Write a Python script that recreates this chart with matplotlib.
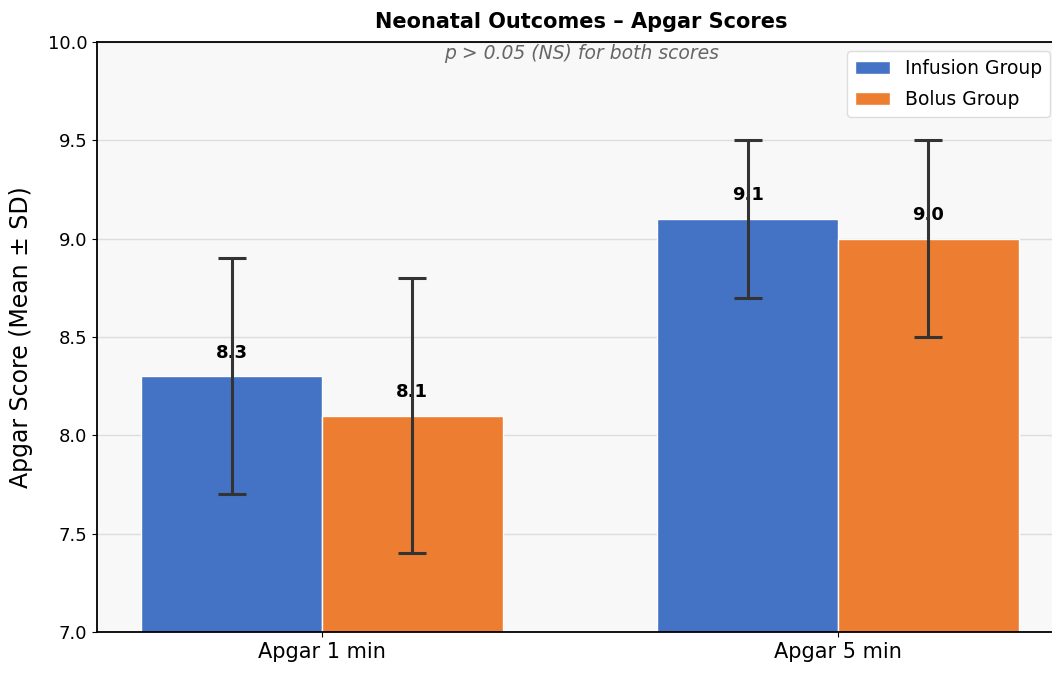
import numpy as np
import matplotlib
matplotlib.use("Agg")
import matplotlib.pyplot as plt

# data
categories = ["Apgar 1 min", "Apgar 5 min"]
infusion_mean = [8.3, 9.1]
infusion_sd = [0.6, 0.4]
bolus_mean = [8.1, 9.0]
bolus_sd = [0.7, 0.5]
groups = ["Infusion Group", "Bolus Group"]

blue = "#4472C4"
orange = "#ED7D31"

fig = plt.figure(figsize=(10.52, 6.73), dpi=100)
# axes runs a little past the right edge, as in the cropped reference
ax = fig.add_axes([0.0922, 0.0609, 0.9211, 0.8767])
ax.set_facecolor("#f8f8f8")

x = np.arange(len(categories))
w = 0.35
ekw = dict(ecolor="#333333", elinewidth=2.2, capthick=2.2, zorder=4)
b1 = ax.bar(x - w/2, infusion_mean, w, yerr=infusion_sd, color=blue, edgecolor="white",
            linewidth=1, label=groups[0], capsize=10, error_kw=ekw, zorder=2)
b2 = ax.bar(x + w/2, bolus_mean, w, yerr=bolus_sd, color=orange, edgecolor="white",
            linewidth=1, label=groups[1], capsize=10, error_kw=ekw, zorder=2)

# value labels sit under the error bars
for bars, vals in [(b1, infusion_mean), (b2, bolus_mean)]:
    for r, v in zip(bars, vals):
        ax.text(r.get_x() + r.get_width()/2, v + 0.12, f"{v:.1f}", ha="center", va="center",
                fontsize=13, fontweight="bold", zorder=3)

ax.set_xlim(-0.436, 1.442)
ax.set_ylim(7.0, 10.0)
ax.set_xticks(x)
ax.set_xticklabels(categories, fontsize=15)
ax.tick_params(axis="y", labelsize=13)
ax.set_ylabel("Apgar Score (Mean ± SD)", fontsize=17)
ax.yaxis.set_label_coords(-0.066, 0.5)
ax.set_title("Neonatal Outcomes – Apgar Scores", fontsize=15, fontweight="bold", pad=10)
ax.text(0.5, 0.997, "p > 0.05 (NS) for both scores", transform=ax.transAxes, ha="center",
        va="top", fontsize=13.5, style="italic", color="#666666")
ax.yaxis.grid(True, color="#dddddd", linewidth=1, zorder=0)
ax.set_axisbelow(True)
for s in ax.spines.values():
    s.set_linewidth(1.3)
ax.legend(loc="upper right", bbox_to_anchor=(0.993, 1.0), fontsize=13.5, framealpha=1,
          edgecolor="#dddddd", handlelength=1.9, labelspacing=0.65)

fig.savefig("out.png", dpi=100)
